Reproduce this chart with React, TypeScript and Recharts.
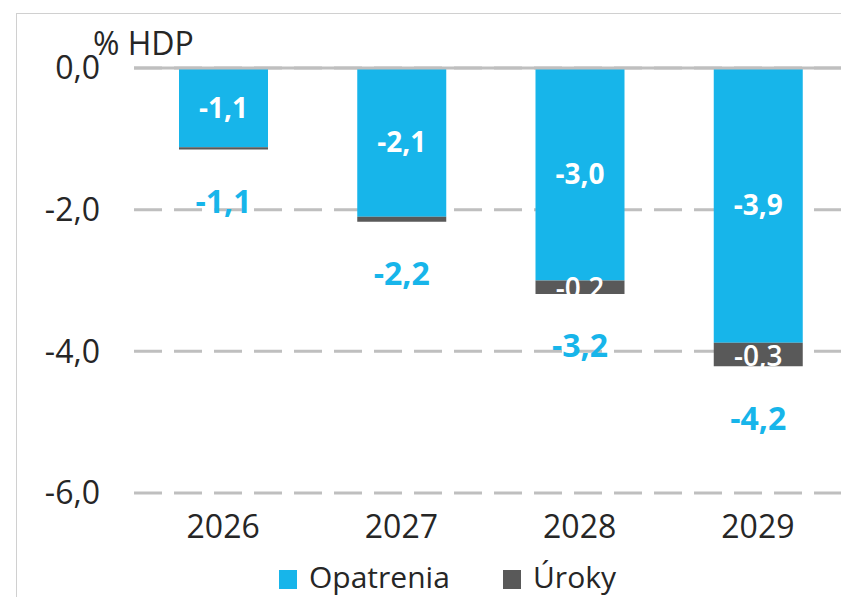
import React from "react";
import {
  BarChart,
  Bar,
  XAxis,
  YAxis,
  CartesianGrid,
  ReferenceLine,
  LabelList,
} from "recharts";

const years = ["2026", "2027", "2028", "2029"];
const opatrenia = [-1.12, -2.1, -3.0, -3.88];
const uroky = [-0.03, -0.07, -0.19, -0.33];
const totals = [-1.1, -2.2, -3.2, -4.2];
const yTicks = [0, -2, -4, -6];

const BLUE = "#17b5ea";
const DARK = "#595959";
const FONT = "'Open Sans', 'Noto Sans', sans-serif";

const data = years.map((y, i) => ({
  year: y,
  opatrenia: opatrenia[i],
  uroky: uroky[i],
  total: totals[i],
}));

const fmt = (v: number) => v.toFixed(1).replace(".", ",");

function TotalLabel(props: any) {
  const { x, y, width, height, index } = props;
  const bottom = Math.max(y, y + height);
  return (
    <text
      x={x + width / 2}
      y={bottom + 51}
      textAnchor="middle"
      dominantBaseline="central"
      fill={BLUE}
      fontSize={32}
      fontWeight={700}
      fontFamily={FONT}
    >
      {fmt(totals[index])}
    </text>
  );
}

function UrokyLabel(props: any) {
  const { x, y, width, height, value } = props;
  if (Math.abs(value) < 0.1) return null;
  return (
    <text
      x={x + width / 2}
      y={y + height / 2}
      textAnchor="middle"
      dominantBaseline="central"
      fill="#ffffff"
      fontSize={28}
      fontWeight={600}
      fontFamily={FONT}
    >
      {fmt(value)}
    </text>
  );
}

export default function App() {
  return (
    <div
      style={{
        position: "absolute",
        left: 0,
        top: 0,
        width: 841,
        height: 597,
        overflow: "hidden",
        background: "#fff",
        fontFamily: FONT,
      }}
    >
      <div
        style={{
          position: "absolute",
          left: 16,
          top: 13,
          right: -2,
          bottom: -2,
          borderLeft: "1px solid #d0d0d0",
          borderTop: "1px solid #d0d0d0",
        }}
      />
      <div style={{ position: "absolute", left: 0, top: 0 }}>
        <BarChart
          width={860}
          height={597}
          data={data}
          margin={{ top: 68, right: 13, bottom: 44, left: 0 }}
        >
          <CartesianGrid
            vertical={false}
            stroke="#bfbfbf"
            strokeWidth={3}
            strokeDasharray="28 12"
          />
          <XAxis
            dataKey="year"
            axisLine={false}
            tickLine={false}
            height={60}
            tickMargin={16}
            tick={{ fill: "#262626", fontSize: 32, fontFamily: FONT }}
          />
          <YAxis
            domain={[-6, 0]}
            ticks={yTicks}
            width={134}
            axisLine={false}
            tickLine={false}
            tickMargin={28}
            tickFormatter={fmt}
            tick={{ fill: "#262626", fontSize: 32, fontFamily: FONT }}
          />
          <ReferenceLine y={0} stroke="#bfbfbf" strokeWidth={3} />
          <Bar
            dataKey="opatrenia"
            stackId="a"
            fill={BLUE}
            barSize={89}
            isAnimationActive={false}
          >
            <LabelList
              dataKey="opatrenia"
              position="center"
              formatter={(v: any) => fmt(Number(v))}
              fill="#ffffff"
              fontSize={28}
              fontWeight={700}
              fontFamily={FONT}
            />
          </Bar>
          <Bar
            dataKey="uroky"
            stackId="a"
            fill={DARK}
            barSize={89}
            isAnimationActive={false}
          >
            <LabelList dataKey="uroky" content={<UrokyLabel />} />
            <LabelList dataKey="total" content={<TotalLabel />} />
          </Bar>
        </BarChart>
      </div>
      <svg
        width={841}
        height={597}
        style={{ position: "absolute", left: 0, top: 0, pointerEvents: "none" }}
      >
        <text x={93} y={55} fontSize={32} fill="#262626" fontFamily={FONT}>
          % HDP
        </text>
        <rect x={279} y={570} width={18} height={19} fill={BLUE} />
        <text x={309} y={588} fontSize={30} fill="#262626" fontFamily={FONT}>
          Opatrenia
        </text>
        <rect x={503} y={570} width={18} height={19} fill={DARK} />
        <text x={533} y={588} fontSize={30} fill="#262626" fontFamily={FONT}>
          Úroky
        </text>
      </svg>
    </div>
  );
}
